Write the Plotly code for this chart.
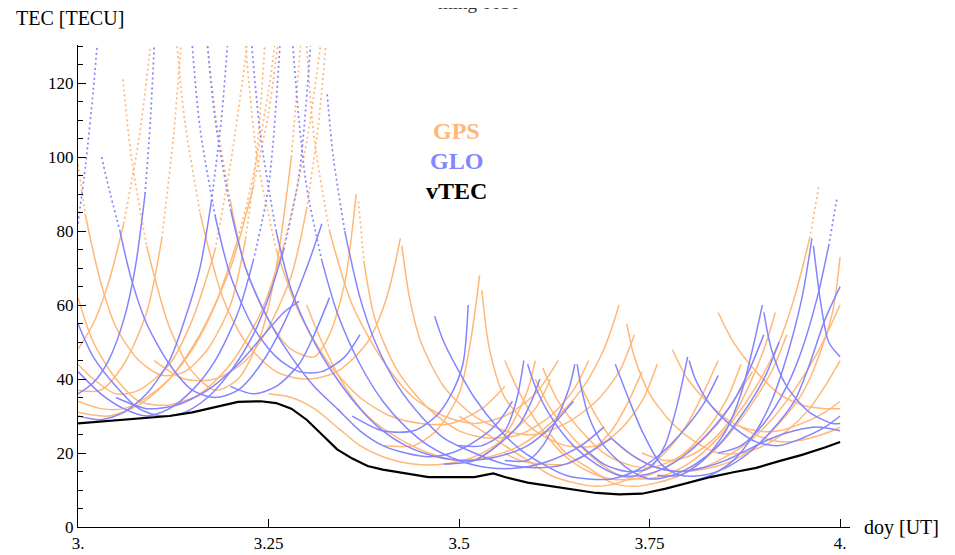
import plotly.graph_objects as go

# ---- data ----
vtec_x = [3.0, 3.03, 3.06, 3.09, 3.12, 3.15, 3.18, 3.21, 3.24, 3.26, 3.28, 3.30, 3.32, 3.34, 3.36,
          3.38, 3.40, 3.43, 3.46, 3.49, 3.52, 3.545, 3.56, 3.59, 3.62, 3.65, 3.68, 3.71, 3.74,
          3.77, 3.80, 3.83, 3.86, 3.89, 3.92, 3.95, 3.98, 4.0]
vtec_y = [28, 28.5, 29, 29.5, 30, 31, 32.5, 33.8, 34, 33.5, 32, 29, 25, 21, 18.5,
          16.5, 15.5, 14.5, 13.5, 13.5, 13.5, 14.5, 13.5, 12, 11, 10, 9.2, 8.8, 9,
          10.3, 12, 13.5, 14.8, 16, 17.8, 19.5, 21.5, 23]

gps_arcs = [
    [(3.0, 48), (3.02, 55), (3.04, 66), (3.06, 82), (3.08, 105), (3.095, 130)],
    [(3.0, 37), (3.03, 37), (3.06, 44), (3.09, 58), (3.11, 78), (3.125, 105), (3.135, 130)],
    [(3.059, 121), (3.07, 100), (3.09, 76), (3.12, 54), (3.15, 42), (3.18, 37), (3.21, 40), (3.24, 52), (3.26, 70), (3.28, 100), (3.292, 130)],
    [(3.0, 62), (3.02, 50), (3.05, 40), (3.08, 34), (3.12, 33), (3.16, 36), (3.2, 44), (3.24, 58), (3.27, 76), (3.30, 104), (3.318, 130)],
    [(3.0, 31), (3.04, 30), (3.08, 33), (3.12, 40), (3.16, 52), (3.2, 70), (3.23, 92), (3.25, 112), (3.262, 130)],
    [(3.0, 44), (3.02, 40), (3.05, 36), (3.08, 37), (3.12, 44), (3.15, 56), (3.18, 75), (3.2, 98), (3.222, 130)],
    [(3.0, 98), (3.01, 84), (3.03, 66), (3.05, 54), (3.08, 45), (3.11, 41), (3.14, 42), (3.17, 48), (3.2, 60), (3.22, 78), (3.235, 102), (3.245, 130)],
    [(3.13, 130), (3.14, 110), (3.16, 85), (3.19, 62), (3.22, 50), (3.26, 42), (3.3, 40), (3.34, 42), (3.38, 50), (3.405, 62), (3.423, 78)],
    [(3.3, 130), (3.31, 105), (3.33, 80), (3.36, 60), (3.4, 45), (3.44, 35), (3.48, 30), (3.52, 28), (3.56, 30), (3.6, 36), (3.63, 45)],
    [(3.22, 130), (3.235, 100), (3.26, 75), (3.29, 58), (3.33, 44), (3.37, 35), (3.41, 30), (3.45, 28), (3.49, 28), (3.53, 32), (3.56, 38)],
    [(3.17, 130), (3.18, 112), (3.2, 88), (3.22, 70), (3.25, 56), (3.28, 48), (3.31, 46), (3.33, 52), (3.35, 66), (3.365, 90)],
    [(3.368, 88), (3.375, 72), (3.39, 56), (3.42, 42), (3.46, 32), (3.5, 26), (3.54, 24), (3.58, 25), (3.62, 30), (3.65, 37), (3.67, 45)],
    [(3.425, 76), (3.435, 62), (3.45, 50), (3.48, 38), (3.52, 30), (3.56, 26), (3.6, 25), (3.64, 28), (3.68, 34), (3.71, 42), (3.73, 52)],
    [(3.40, 22), (3.44, 22), (3.47, 26), (3.5, 36), (3.515, 50), (3.527, 68)],
    [(3.53, 64), (3.54, 48), (3.56, 35), (3.6, 26), (3.64, 22), (3.68, 22), (3.71, 26), (3.74, 34), (3.76, 44)],
    [(3.3, 60), (3.32, 50), (3.35, 38), (3.38, 30), (3.42, 24), (3.46, 20), (3.5, 18), (3.54, 19), (3.58, 22), (3.62, 28), (3.66, 37), (3.69, 48), (3.71, 60)],
    [(3.25, 36), (3.28, 35), (3.31, 32), (3.34, 27), (3.37, 22), (3.4, 19), (3.44, 17), (3.48, 17), (3.52, 19), (3.56, 24), (3.6, 32), (3.62, 40)],
    [(3.56, 45), (3.58, 36), (3.61, 26), (3.64, 19), (3.67, 15), (3.7, 13), (3.73, 13), (3.76, 15), (3.79, 19), (3.82, 25), (3.85, 34), (3.87, 44)],
    [(3.6, 40), (3.62, 32), (3.65, 24), (3.68, 18), (3.71, 14), (3.74, 13), (3.77, 14), (3.8, 17), (3.83, 22), (3.86, 29), (3.89, 38), (3.92, 50), (3.94, 62), (3.96, 78), (3.972, 92)],
    [(3.62, 25), (3.64, 20), (3.67, 16), (3.7, 12), (3.73, 11), (3.76, 12), (3.79, 14), (3.82, 18), (3.85, 24), (3.88, 32), (3.91, 42), (3.93, 52)],
    [(3.5, 30), (3.53, 26), (3.56, 22), (3.59, 18), (3.62, 14), (3.65, 12), (3.68, 11), (3.71, 12), (3.74, 15), (3.77, 20), (3.8, 28), (3.82, 36), (3.84, 45)],
    [(3.66, 38), (3.68, 30), (3.7, 24), (3.73, 19), (3.76, 16), (3.79, 15), (3.82, 16), (3.85, 19), (3.88, 23), (3.91, 29), (3.94, 37), (3.97, 47), (4.0, 60)],
    [(3.72, 55), (3.73, 46), (3.75, 36), (3.78, 28), (3.81, 23), (3.84, 20), (3.87, 20), (3.9, 22), (3.93, 26), (3.96, 32), (3.98, 38), (4.0, 45)],
    [(3.78, 48), (3.8, 40), (3.83, 33), (3.86, 28), (3.89, 26), (3.92, 26), (3.95, 28), (3.98, 31), (4.0, 34)],
    [(3.84, 58), (3.86, 50), (3.89, 42), (3.92, 36), (3.95, 33), (3.98, 32), (4.0, 32)],
    [(3.8, 15), (3.83, 16), (3.86, 18), (3.89, 22), (3.92, 28), (3.95, 36), (3.97, 45), (3.99, 58), (4.0, 73)],
    [(3.87, 27), (3.9, 24), (3.93, 23), (3.96, 24), (3.99, 26), (4.0, 27)],
    [(3.56, 20), (3.58, 18), (3.61, 17), (3.64, 17), (3.67, 20), (3.7, 26), (3.72, 33), (3.74, 42)],
    [(3.52, 18), (3.55, 22), (3.57, 28), (3.59, 37), (3.6, 45)],
    [(3.61, 43), (3.63, 34), (3.66, 26), (3.69, 20), (3.72, 17), (3.75, 16), (3.78, 18), (3.81, 22), (3.84, 28), (3.86, 34), (3.885, 42)],
    [(3.74, 20), (3.77, 18), (3.8, 19), (3.83, 23), (3.86, 30), (3.88, 38), (3.9, 48), (3.915, 58)],
    [(3.0, 34), (3.03, 32), (3.06, 32), (3.09, 35), (3.12, 40), (3.15, 48), (3.18, 60), (3.21, 78), (3.23, 95), (3.25, 118), (3.258, 130)],
    [(3.1, 45), (3.14, 40), (3.18, 40), (3.22, 45), (3.25, 54), (3.28, 68), (3.3, 86), (3.315, 108), (3.325, 130)],
]

glo_arcs = [
    [(3.0, 82), (3.01, 98), (3.02, 118), (3.025, 130)],
    [(3.031, 100), (3.04, 92), (3.055, 80), (3.07, 67), (3.09, 55), (3.12, 44), (3.15, 37), (3.18, 35), (3.21, 37), (3.24, 44), (3.27, 55), (3.3, 70), (3.32, 82)],
    [(3.0, 55), (3.02, 46), (3.05, 38), (3.08, 32), (3.11, 30), (3.14, 31), (3.17, 35), (3.2, 42), (3.23, 52), (3.25, 62), (3.27, 75), (3.29, 95), (3.305, 130)],
    [(3.0, 42), (3.03, 36), (3.06, 32), (3.09, 30), (3.12, 32), (3.15, 37), (3.18, 45), (3.21, 58), (3.23, 72), (3.25, 92), (3.265, 130)],
    [(3.0, 36), (3.02, 39), (3.04, 45), (3.06, 56), (3.075, 70), (3.088, 90), (3.095, 110), (3.1, 130)],
    [(3.0, 30), (3.03, 29), (3.06, 31), (3.09, 36), (3.12, 45), (3.14, 56), (3.16, 70), (3.175, 88), (3.188, 110), (3.196, 130)],
    [(3.15, 130), (3.16, 108), (3.18, 84), (3.2, 68), (3.23, 54), (3.26, 46), (3.29, 42), (3.32, 42), (3.35, 46), (3.37, 52)],
    [(3.17, 130), (3.18, 110), (3.2, 86), (3.22, 70), (3.25, 56), (3.28, 46), (3.31, 38), (3.34, 32), (3.37, 26), (3.4, 22), (3.43, 20), (3.46, 19), (3.49, 20), (3.52, 23), (3.55, 28), (3.57, 34)],
    [(3.228, 130), (3.24, 105), (3.26, 80), (3.28, 64), (3.31, 50), (3.34, 40), (3.37, 32), (3.4, 26), (3.43, 22), (3.47, 19), (3.51, 18), (3.55, 19), (3.59, 22), (3.62, 27), (3.65, 34)],
    [(3.282, 130), (3.29, 110), (3.3, 92), (3.32, 72), (3.34, 58), (3.37, 44), (3.4, 34), (3.43, 27), (3.46, 22), (3.5, 18), (3.54, 16), (3.58, 16), (3.62, 18), (3.66, 22), (3.69, 27)],
    [(3.327, 117), (3.335, 100), (3.35, 80), (3.37, 62), (3.39, 50), (3.42, 38), (3.45, 30), (3.48, 24), (3.52, 20), (3.56, 17), (3.6, 16), (3.64, 17), (3.67, 20), (3.7, 24)],
    [(3.468, 57), (3.48, 50), (3.5, 42), (3.52, 35), (3.55, 27), (3.58, 21), (3.61, 17), (3.64, 14), (3.67, 13), (3.7, 13), (3.73, 15), (3.76, 19), (3.79, 25), (3.82, 33), (3.84, 41)],
    [(3.36, 30), (3.4, 26), (3.44, 26), (3.47, 30), (3.49, 36), (3.505, 44), (3.512, 60)],
    [(3.05, 35), (3.09, 32), (3.13, 33), (3.17, 37), (3.21, 44), (3.24, 51), (3.27, 58), (3.29, 61)],
    [(3.5, 22), (3.53, 22), (3.56, 26), (3.575, 34), (3.585, 45)],
    [(3.59, 44), (3.6, 38), (3.62, 30), (3.65, 22), (3.68, 17), (3.71, 14), (3.74, 14), (3.77, 16), (3.8, 20), (3.83, 26), (3.86, 34), (3.88, 42), (3.9, 52)],
    [(3.66, 22), (3.69, 17), (3.72, 15), (3.75, 16), (3.77, 22), (3.785, 32), (3.8, 46)],
    [(3.802, 45), (3.81, 40), (3.83, 33), (3.86, 27), (3.89, 23), (3.92, 22), (3.95, 24), (3.98, 27), (4.0, 30)],
    [(3.705, 44), (3.72, 36), (3.74, 26), (3.765, 17), (3.79, 14), (3.82, 14), (3.85, 16), (3.88, 20), (3.91, 26), (3.94, 34), (3.96, 44), (3.98, 56), (4.0, 65)],
    [(3.76, 14), (3.79, 14), (3.82, 18), (3.85, 26), (3.87, 36), (3.885, 48), (3.898, 60)],
    [(3.9, 58), (3.91, 48), (3.93, 38), (3.96, 31), (3.99, 28), (4.0, 28)],
    [(3.8, 12), (3.83, 14), (3.86, 18), (3.89, 26), (3.91, 34), (3.93, 46), (3.95, 62), (3.963, 78)],
    [(3.965, 76), (3.975, 60), (3.985, 50), (4.0, 46)],
    [(3.84, 20), (3.87, 22), (3.9, 28), (3.93, 38), (3.95, 48), (3.97, 62), (3.985, 76), (3.996, 89)],
    [(3.56, 18), (3.59, 18), (3.61, 22), (3.63, 30), (3.645, 38), (3.652, 44)],
    [(3.655, 44), (3.66, 38), (3.67, 30), (3.69, 22), (3.72, 16), (3.75, 13), (3.78, 14), (3.81, 17), (3.84, 22), (3.87, 30), (3.9, 40), (3.92, 50)],
    [(3.48, 17), (3.52, 18), (3.55, 22), (3.58, 28), (3.595, 34), (3.606, 40)],
    [(3.7, 24), (3.73, 19), (3.76, 16), (3.79, 15), (3.82, 16), (3.85, 18), (3.88, 21), (3.91, 24), (3.94, 26), (3.97, 27), (4.0, 26)],
    [(3.2, 38), (3.23, 36), (3.26, 38), (3.29, 44), (3.31, 52), (3.33, 62)],
]

x_tick_vals = [3.0, 3.25, 3.5, 3.75, 4.0]
x_tick_text = ["3.", "3.25", "3.5", "3.75", "4."]
y_tick_vals = [0, 20, 40, 60, 80, 100, 120]
y_tick_text = ["0", "20", "40", "60", "80", "100", "120"]

GPS_COLOR = "#FFB878"
GLO_COLOR = "#8484FF"
SERIF = "Liberation Serif"
STEEP_LEVEL = 72   # above this level the sparse samples look dotted in the reference


def split_runs(arc):
    """Split an arc into consecutive runs: low part solid, high steep part dotted."""
    runs = []
    cur, cur_dot = [arc[0]], None
    for a, b in zip(arc[:-1], arc[1:]):
        dot = min(a[1], b[1]) >= STEEP_LEVEL
        if cur_dot is None or dot == cur_dot:
            cur.append(b)
            cur_dot = dot
        else:
            runs.append((cur, cur_dot))
            cur, cur_dot = [a, b], dot
    runs.append((cur, cur_dot))
    return runs


fig = go.Figure()
for arcs, color in ((gps_arcs, GPS_COLOR), (glo_arcs, GLO_COLOR)):
    for arc in arcs:
        for pts, dot in split_runs(arc):
            fig.add_trace(go.Scatter(
                x=[p[0] for p in pts], y=[p[1] for p in pts], mode="lines",
                line=dict(color=color, width=1.7 if dot else 1.5, shape="spline", smoothing=0.8,
                          dash="2px,3px" if dot else "solid"),
                showlegend=False, hoverinfo="skip"))
fig.add_trace(go.Scatter(x=vtec_x, y=vtec_y, mode="lines",
                         line=dict(color="black", width=2.2),
                         showlegend=False, hoverinfo="skip"))

axis_common = dict(showgrid=False, zeroline=False, showline=True, linecolor="black", linewidth=1.4,
                   ticks="inside", tickcolor="black", ticklen=8, tickwidth=1.2, automargin=False,
                   tickfont=dict(family=SERIF, size=17, color="black"))

# page body adds an 8px offset, so the figure is sized to fit the 955x555 window
fig.update_layout(
    width=947, height=547,
    margin=dict(l=70, r=105, t=37, b=28),
    paper_bgcolor="white", plot_bgcolor="white",
    xaxis=dict(range=[3.0, 4.013], tickvals=x_tick_vals, ticktext=x_tick_text, **axis_common),
    yaxis=dict(range=[0, 130.3], tickvals=y_tick_vals, ticktext=y_tick_text,
               minor=dict(dtick=5, ticks="inside", ticklen=5, tickcolor="black", showgrid=False),
               **axis_common),
    annotations=[
        dict(text="TEC [TECU]", xref="paper", yref="paper", x=-0.083, y=1.056, xanchor="left",
             yanchor="middle", showarrow=False, font=dict(family=SERIF, size=20, color="black")),
        dict(text="doy [UT]", xref="paper", yref="paper", x=1.015, y=0.0, xanchor="left",
             yanchor="middle", showarrow=False, font=dict(family=SERIF, size=20, color="black")),
        dict(text="ming 0030", xref="paper", yref="paper", x=0.52, y=1.088, xanchor="center",
             yanchor="middle", showarrow=False, font=dict(family=SERIF, size=19, color="#333")),
        dict(text="<b>GPS</b>", xref="paper", yref="paper", x=0.49, y=0.822, xanchor="center",
             yanchor="middle", showarrow=False, font=dict(family=SERIF, size=24, color=GPS_COLOR)),
        dict(text="<b>GLO</b>", xref="paper", yref="paper", x=0.49, y=0.760, xanchor="center",
             yanchor="middle", showarrow=False, font=dict(family=SERIF, size=24, color=GLO_COLOR)),
        dict(text="<b>vTEC</b>", xref="paper", yref="paper", x=0.49, y=0.698, xanchor="center",
             yanchor="middle", showarrow=False, font=dict(family=SERIF, size=24, color="black")),
    ],
)

fig.write_html("out.html")
